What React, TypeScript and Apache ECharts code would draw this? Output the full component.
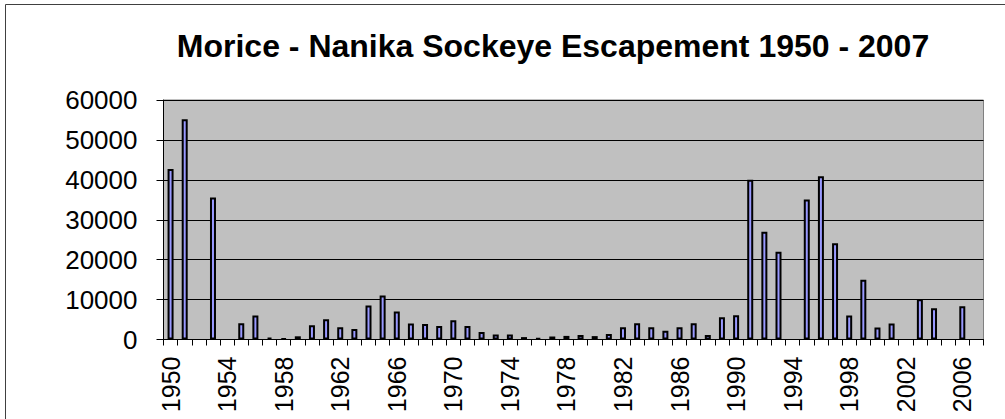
import React, { useEffect, useRef } from "react";
import * as echarts from "echarts";

const years: string[] = [];
for (let y = 1950; y <= 2007; y++) years.push(String(y));

const escapement: (number | null)[] = [
  42700, 55200, null, 35600, null, 4100, 6000, 500, 300, 800,
  3600, 5100, 3100, 2600, 8500, 11000, 7000, 4000, 3900, 3400,
  4800, 3400, 1900, 1250, 1250, 600, 400, 750, 900, 1150,
  850, 1400, 3100, 4100, 3100, 2200, 3100, 4100, 1150, 5600,
  6100, 40000, 27000, 22000, null, 35100, 40900, 24100, 6000, 15000,
  3000, 4000, null, 10100, 7800, null, 8300, null,
];

const titleText = "Morice - Nanika Sockeye Escapement 1950 - 2007";

export default function App() {
  const ref = useRef<HTMLDivElement>(null);
  useEffect(() => {
    if (!ref.current) return;
    const chart = echarts.init(ref.current, undefined, { renderer: "svg" });
    const font = "'Liberation Sans', Arial, sans-serif";
    chart.setOption({
      animation: false,
      backgroundColor: "#ffffff",
      graphic: [
        {
          type: "rect",
          shape: { x: 5.5, y: 4.5, width: 1200, height: 600 },
          style: { fill: "none", stroke: "#404040", lineWidth: 1 },
          z: 0,
        },
        {
          type: "text",
          x: 553,
          y: 46,
          style: {
            text: titleText,
            font: `bold 32px ${font}`,
            fill: "#000",
            align: "center",
            verticalAlign: "middle",
          },
        },
      ],
      grid: {
        left: 163.5,
        right: 21.5,
        top: 100,
        bottom: 79.5,
        show: true,
        backgroundColor: "#C0C0C0",
        borderColor: "#808080",
        borderWidth: 1,
        containLabel: false,
      },
      xAxis: {
        type: "category",
        data: years,
        boundaryGap: true,
        axisLine: { show: true, lineStyle: { color: "#000", width: 1 } },
        axisTick: { show: true, interval: 0, length: 6, lineStyle: { color: "#000" } },
        axisLabel: {
          interval: 3,
          rotate: 90,
          margin: 17,
          fontSize: 25,
          fontFamily: font,
          color: "#000",
        },
        splitLine: { show: false },
      },
      yAxis: {
        type: "value",
        min: 0,
        max: 60000,
        interval: 10000,
        axisLine: { show: true, lineStyle: { color: "#000", width: 1 } },
        axisTick: { show: true, length: 7, lineStyle: { color: "#000" } },
        axisLabel: {
          margin: 26,
          fontSize: 26,
          fontFamily: font,
          color: "#000",
          formatter: (v: number) => String(v),
        },
        splitLine: { show: true, lineStyle: { color: "#000", width: 1 } },
      },
      series: [
        {
          type: "bar",
          data: escapement,
          barWidth: 6,
          itemStyle: { color: "#9999FF", borderColor: "#000", borderWidth: 2 },
        },
      ],
    });
    return () => chart.dispose();
  }, []);
  return (
    <div
      ref={ref}
      style={{ position: "fixed", left: 0, top: 0, width: 1005, height: 419 }}
    />
  );
}
